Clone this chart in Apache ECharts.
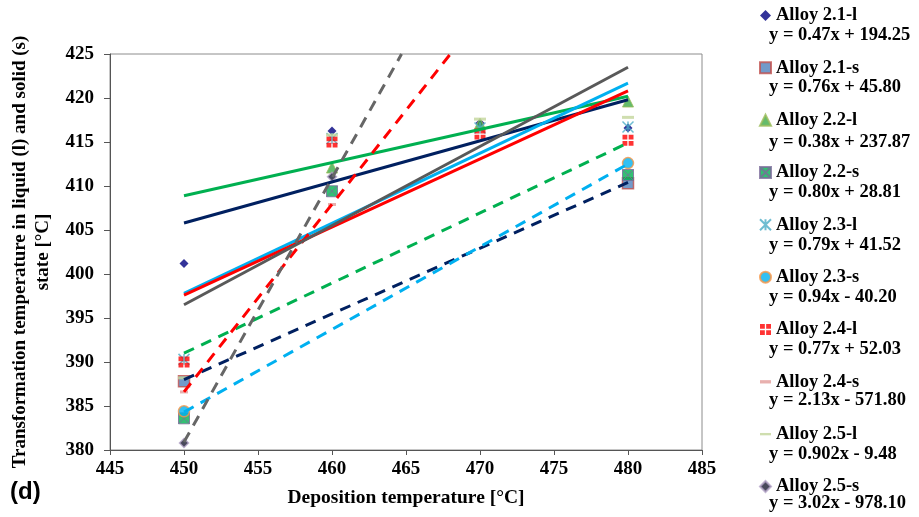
<!DOCTYPE html>
<html>
<head>
<meta charset="utf-8">
<script src="https://cdn.jsdelivr.net/npm/echarts@6/dist/echarts.min.js"></script>
<style>
  html, body { margin: 0; padding: 0; background: #fff; }
  #chart { width: 919px; height: 517px; }
</style>
</head>
<body>
<div id="chart"></div>
<script>
// Deposition temperatures (°C) at which samples were measured
const depositionTemps = [450, 460, 470, 480];

// Axis ticks
const xTicks = { min: 445, max: 485, step: 5 };
const yTicks = { min: 380, max: 425, step: 5 };

// Series names and fitted trendline equations
const alloyNames = [
  'Alloy 2.1-l', 'Alloy 2.1-s', 'Alloy 2.2-l', 'Alloy 2.2-s', 'Alloy 2.3-l',
  'Alloy 2.3-s', 'Alloy 2.4-l', 'Alloy 2.4-s', 'Alloy 2.5-l', 'Alloy 2.5-s'
];
const equations = [
  'y = 0.47x + 194.25', 'y = 0.76x + 45.80', 'y = 0.38x + 237.87', 'y = 0.80x + 28.81',
  'y = 0.79x + 41.52', 'y = 0.94x - 40.20', 'y = 0.77x + 52.03', 'y = 2.13x - 571.80',
  'y = 0.902x - 9.48', 'y = 3.02x - 978.10'
];

// Measured transformation temperatures (°C), one value per deposition temperature
const alloy21l = [401.2, 416.25, 417.15, 416.6];
const alloy21s = [387.8, null, null, 410.3];
const alloy22l = [null, 412.1, 417.1, 419.6];
const alloy22s = [383.6, 409.4, null, 411.25];
const alloy23l = [390.3, 415.4, 416.6, 416.7];
const alloy23s = [384.4, null, null, 412.6];
const alloy24l = [390.0, 415.0, 415.9, 415.2];
const alloy24s = [386.6, 407.9, null, null];
const alloy25l = [388.2, 415.8, 417.6, 417.8];
const alloy25s = [380.8, 411.05, null, null];

// Linear trendline end points [deposition temp, transformation temp]
const trend21l = [[450, 405.8], [480, 419.8]];
const trend21s = [[450, 388.0], [480, 410.4]];
const trend22l = [[450, 408.9], [480, 420.2]];
const trend22s = [[450, 391.0], [480, 414.9]];
const trend23l = [[450, 397.8], [480, 421.7]];
const trend23s = [[450, 384.3], [480, 412.5]];
const trend24l = [[450, 397.6], [480, 420.8]];
const trend24s = [[450, 386.6], [468.0, 425]];
const trend25l = [[450, 396.5], [480, 423.5]];
const trend25s = [[450, 380.9], [464.7, 425]];

const measured = [alloy21l, alloy21s, alloy22l, alloy22s, alloy23l, alloy23s, alloy24l, alloy24s, alloy25l, alloy25s];
const trends = [trend21l, trend21s, trend22l, trend22s, trend23l, trend23s, trend24l, trend24s, trend25l, trend25s];

const SERIF = '"Liberation Serif", "Times New Roman", serif';

// Marker styles per alloy
const markerStyles = [
  { symbol: 'diamond', symbolSize: 9, itemStyle: { color: '#000080' } },
  { symbol: 'rect', symbolSize: 11, itemStyle: { color: '#4F81BD', borderColor: '#C0504D', borderWidth: 1.5 } },
  { symbol: 'triangle', symbolSize: 11, itemStyle: { color: '#3DAA46', borderColor: '#9BBB59', borderWidth: 1 } },
  { symbol: 'path://M0,0h10v10h-10zM0,0L10,10M10,0L0,10', symbolSize: 11, itemStyle: { color: '#00B050', borderColor: '#7A6A9A', borderWidth: 1 } },
  { symbol: 'path://M0,0L10,10M10,0L0,10M5,0L5,10', symbolSize: 11, itemStyle: { color: 'rgba(0,0,0,0)', borderColor: '#4BACC6', borderWidth: 1.5 } },
  { symbol: 'circle', symbolSize: 11, itemStyle: { color: '#00B0F0', borderColor: '#F79646', borderWidth: 1.5 } },
  { symbol: 'path://M0,0h4.4v4.4h-4.4zM5.6,0h4.4v4.4h-4.4zM0,5.6h4.4v4.4h-4.4zM5.6,5.6h4.4v4.4h-4.4z', symbolSize: 11, itemStyle: { color: '#FF0000' } },
  { symbol: 'path://M0,0h10v3h-10z', symbolSize: [8, 3], itemStyle: { color: '#E29C9A' } },
  { symbol: 'path://M0,0h10v3h-10z', symbolSize: [12, 3], itemStyle: { color: '#C3D69B' } },
  { symbol: 'diamond', symbolSize: 9, itemStyle: { color: '#1B1B33', borderColor: '#B3A2C7', borderWidth: 1.5 } }
];

// Trendline colours: solid for liquid (l), dashed for solid (s)
const trendColors = ['#002060', '#002060', '#00B050', '#00B050', '#00B0F0', '#00B0F0', '#FF0000', '#FF0000', '#595959', '#666666'];

const series = [];
alloyNames.forEach((name, i) => {
  const pts = depositionTemps
    .map((t, k) => (measured[i][k] == null ? null : [t, measured[i][k]]))
    .filter(p => p !== null);
  series.push(Object.assign({
    name: name,
    type: 'scatter',
    data: pts,
    z: 2,
    emphasis: { disabled: true }
  }, markerStyles[i]));
});
alloyNames.forEach((name, i) => {
  const dashed = i % 2 === 1;
  series.push({
    name: name + ' trend',
    type: 'line',
    data: trends[i],
    symbol: 'none',
    z: 3,
    clip: true,
    silent: true,
    lineStyle: {
      color: trendColors[i],
      width: 3,
      type: dashed ? [11, 8] : 'solid'
    }
  });
});

// Legend rows: alloy name first line, equation on the line below
const legendFirstRow = 15.5;
const legendRowStep = 52.33;
const equationOffsets = [20, 19.5, 22, 20, 20, 20, 20, 18, 20, 16.5];
const graphics = equations.map((eq, i) => ({
  type: 'text',
  x: 769,
  y: legendFirstRow + legendRowStep * i + equationOffsets[i],
  style: {
    text: eq,
    font: 'bold 18.5px ' + SERIF,
    fill: '#000',
    align: 'left',
    verticalAlign: 'middle'
  }
}));
graphics.push({
  type: 'text',
  x: 10,
  y: 492,
  style: {
    text: '(d)',
    font: 'bold 24px "Liberation Sans", Arial, sans-serif',
    fill: '#000',
    align: 'left',
    verticalAlign: 'middle'
  }
});

const legendData = alloyNames.map((name, i) => {
  const item = { name: name };
  if (i === 7) item.icon = 'path://M0,0h10v3h-10z';
  if (i === 8) item.icon = 'path://M0,0h14v3h-14z';
  return item;
});

const chart = echarts.init(document.getElementById('chart'), null, { renderer: 'canvas' });
chart.setOption({
  animation: false,
  backgroundColor: '#fff',
  grid: {
    left: 110, right: 217, top: 54, bottom: 67,
    show: true, borderColor: '#8c8c8c', borderWidth: 1, backgroundColor: 'transparent'
  },
  legend: {
    data: legendData,
    orient: 'vertical',
    left: 754,
    top: legendFirstRow - 15,
    itemWidth: 11,
    itemHeight: 11,
    itemGap: legendRowStep - 20,
    selectedMode: false,
    textStyle: { fontFamily: SERIF, fontWeight: 'bold', fontSize: 18.5, color: '#000', lineHeight: 20 }
  },
  xAxis: {
    type: 'value',
    min: xTicks.min, max: xTicks.max, interval: xTicks.step,
    name: 'Deposition temperature [°C]',
    nameLocation: 'middle',
    nameGap: 38,
    nameTextStyle: { fontFamily: SERIF, fontWeight: 'bold', fontSize: 19.5, color: '#000' },
    axisLine: { show: true, lineStyle: { color: '#555', width: 1 } },
    axisTick: { show: true, length: 5, lineStyle: { color: '#555' } },
    axisLabel: { margin: 10, fontFamily: SERIF, fontWeight: 'bold', fontSize: 19, color: '#000' },
    splitLine: { show: false }
  },
  yAxis: {
    type: 'value',
    min: yTicks.min, max: yTicks.max, interval: yTicks.step,
    name: 'Transformation temperature in liquid (l) and solid (s)\nstate [°C]',
    nameLocation: 'middle',
    nameGap: 55,
    nameTextStyle: { fontFamily: SERIF, fontWeight: 'bold', fontSize: 19, color: '#000', lineHeight: 23, align: 'center' },
    axisLine: { show: true, lineStyle: { color: '#555', width: 1 } },
    axisTick: { show: true, length: 6, lineStyle: { color: '#555' } },
    axisLabel: { margin: 16, fontFamily: SERIF, fontWeight: 'bold', fontSize: 19, color: '#000' },
    splitLine: { show: false }
  },
  graphic: graphics,
  series: series
});
</script>
</body>
</html>
